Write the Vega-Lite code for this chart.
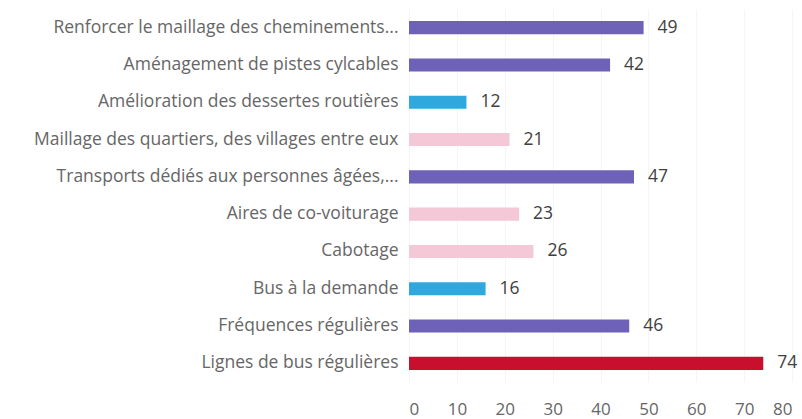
{
  "$schema": "https://vega.github.io/schema/vega-lite/v6.json",
  "autosize": "none",
  "padding": {"left": 409, "top": 9, "right": 10, "bottom": 37},
  "width": 383,
  "height": 373,
  "background": "white",
  "data": {"values": [
    {"label": "Renforcer le maillage des cheminements...", "value": 49, "group": "violet"},
    {"label": "Aménagement de pistes cylcables", "value": 42, "group": "violet"},
    {"label": "Amélioration des dessertes routières", "value": 12, "group": "bleu"},
    {"label": "Maillage des quartiers, des villages entre eux", "value": 21, "group": "rose"},
    {"label": "Transports dédiés aux personnes âgées,...", "value": 47, "group": "violet"},
    {"label": "Aires de co-voiturage", "value": 23, "group": "rose"},
    {"label": "Cabotage", "value": 26, "group": "rose"},
    {"label": "Bus à la demande", "value": 16, "group": "bleu"},
    {"label": "Fréquences régulières", "value": 46, "group": "violet"},
    {"label": "Lignes de bus régulières", "value": 74, "group": "rouge"}
  ]},
  "config": {"view": {"stroke": null}, "font": "Open Sans"},
  "encoding": {
    "y": {"field": "label", "type": "nominal", "sort": null, "title": null,
      "scale": {"paddingInner": 0.65, "paddingOuter": 0.325},
      "axis": {"domain": false, "ticks": false, "labelPadding": 11, "labelFontSize": 17.5, "labelColor": "#666666", "labelFont": "Open Sans", "labelLimit": 420}},
    "x": {"field": "value", "type": "quantitative", "title": null,
      "scale": {"domain": [0, 80], "nice": false},
      "axis": {"values": [0,10,20,30,40,50,60,70,80], "domain": false, "ticks": false, "grid": true, "gridColor": "#f5f5f5", "labelPadding": 19, "labelFontSize": 17, "labelColor": "#666666", "labelFont": "Open Sans"}}
  },
  "layer": [
    {"mark": {"type": "bar"},
     "encoding": {"color": {"field": "group", "type": "nominal", "legend": null,
       "scale": {"domain": ["violet", "bleu", "rose", "rouge"], "range": ["#6D62B7", "#2FA9DD", "#F5C8D8", "#C8102E"]}}}},
    {"mark": {"type": "text", "align": "left", "dx": 14, "fontSize": 17.5, "color": "#404040", "font": "Open Sans"},
     "encoding": {"text": {"field": "value", "type": "quantitative"}}}
  ]
}
